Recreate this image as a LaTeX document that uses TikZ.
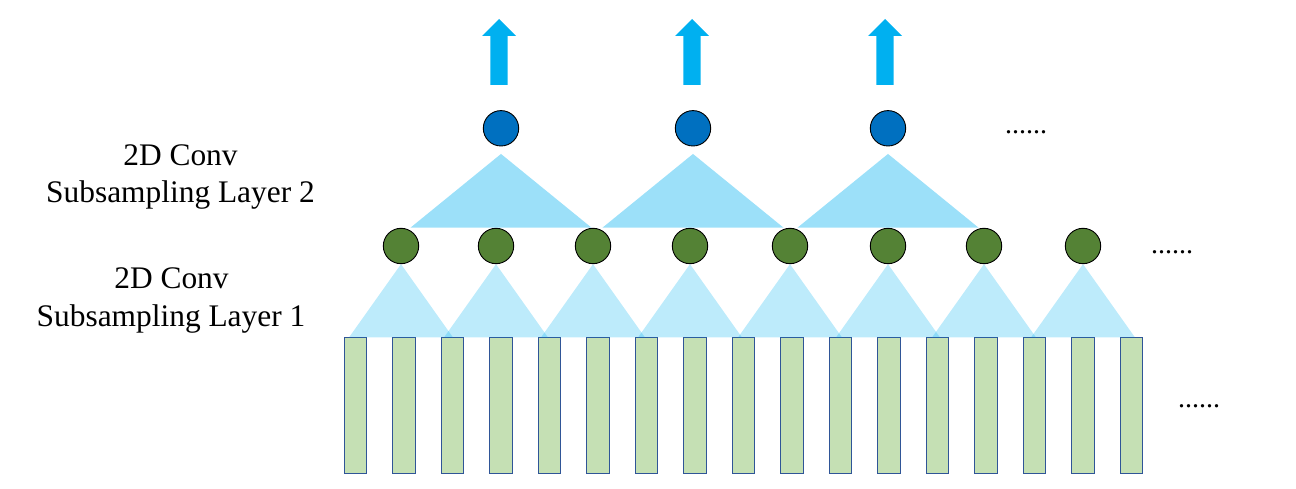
\documentclass[tikz,border=0pt]{standalone}
\usepackage{fontspec}
\setmainfont{Liberation Serif}
\definecolor{rectfill}{HTML}{C5E0B4}
\definecolor{rectdraw}{HTML}{2F5597}
\definecolor{greenc}{HTML}{548235}
\definecolor{bluec}{HTML}{0070C0}
\definecolor{cyanc}{HTML}{00B0F0}
\tikzset{
  inbox/.style={draw=rectdraw, fill=rectfill, line width=1.1bp, minimum width=22.5bp, minimum height=136bp, inner sep=0pt},
  gnode/.style={circle, draw=black, fill=greenc, line width=0.9bp, minimum size=35.4bp, inner sep=0pt},
  bnode/.style={circle, draw=black, fill=bluec, line width=0.9bp, minimum size=35.4bp, inner sep=0pt},
  tri1/.style={fill=cyanc, fill opacity=0.26},
  tri2/.style={fill=cyanc, fill opacity=0.39},
  uparrow/.style={fill=cyanc},
  lbl/.style={anchor=base, inner sep=0pt, font=\fontsize{31.4bp}{36bp}\selectfont},
  dotslbl/.style={anchor=base, inner sep=0pt, font=\fontsize{28bp}{32bp}\selectfont},
}
\begin{document}
\begin{tikzpicture}[x=1bp, y=-1bp]
\useasboundingbox (0,0) rectangle (1296,489);
% input columns
\foreach \i in {0,...,16} {
  \node[inbox] (r\i) at ({355.5+48.5*\i},405.3) {};
}
% layer 1 nodes
\foreach \x [count=\i] in {401,496,593,690,790,888,984,1083} {
  \node[gnode] (g\i) at (\x,246) {};
}
% layer 1 triangles
\foreach \i in {1,...,8} {
  \path[tri1] (g\i.south) -- ++(52,73.3) -- ++(-104,0) -- cycle;
}
% layer 2 nodes
\foreach \x [count=\i] in {501,693,888} {
  \node[bnode] (b\i) at (\x,128.3) {};
}
% layer 2 triangles
\foreach \i in {1,2,3} {
  \path[tri2] ([yshift=-7.5bp]b\i.south) -- ++(90.5,73.7) -- ++(-181,0) -- cycle;
}
% output arrows
\foreach \x [count=\i] in {499,692,885} {
  \coordinate (a\i) at (\x,85);
  \path[uparrow] (a\i) ++(-8.7,0) -- ++(0,-49) -- ++(-8.3,0) -- ++(17,-17)
     -- ++(17,17) -- ++(-8.3,0) -- ++(0,49) -- cycle;
}
% labels
\node[lbl] (t2a) at (180.5,166) {2D Conv};
\node[lbl] (t2b) at (180.5,202.5) {Subsampling Layer 2};
\node[lbl] (t1a) at (171.5,289) {2D Conv};
\node[lbl] (t1b) at (171,326.5) {Subsampling Layer 1};
% ellipses
\node[dotslbl] (d1) at (1026,133.5) {......};
\node[dotslbl] (d2) at (1172,253.5) {......};
\node[dotslbl] (d3) at (1199,407.5) {......};
\end{tikzpicture}
\end{document}
